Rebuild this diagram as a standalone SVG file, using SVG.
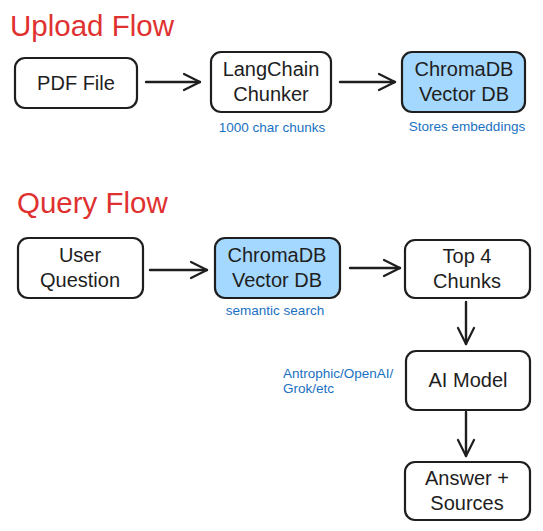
<svg xmlns="http://www.w3.org/2000/svg" width="543" height="531" viewBox="0 0 543 531">
<defs>
<marker id="ah" viewBox="0 0 20 20" refX="18" refY="10" markerWidth="20" markerHeight="20" markerUnits="userSpaceOnUse" orient="auto">
<path d="M2 2 L18 10 L2 18" fill="none" stroke="#1e1e1e" stroke-width="2.2" stroke-linecap="round" stroke-linejoin="round"/>
</marker>
<style>
.box{fill:#ffffff;stroke:#1e1e1e;stroke-width:2.2}
.db{fill:#a5d8ff;stroke:#1e1e1e;stroke-width:2.2}
.t{font-family:"Liberation Sans","DejaVu Sans",sans-serif;font-size:20px;fill:#1e1e1e;text-anchor:middle}
.h{font-family:"Liberation Sans","DejaVu Sans",sans-serif;font-size:29.5px;fill:#e03131}
.n{font-family:"Liberation Sans","DejaVu Sans",sans-serif;font-size:13.5px;fill:#1971c2}
.c{fill:none;stroke:#1e1e1e;stroke-width:2.4;stroke-linecap:round;marker-end:url(#ah)}
</style>
</defs>
<rect width="543" height="531" fill="#ffffff"/>
<text class="h" x="10" y="36">Upload Flow</text>
<text class="h" x="17" y="213">Query Flow</text>

<g id="connectors">
<line class="c" x1="146" y1="82" x2="200" y2="82"/>
<line class="c" x1="340" y1="82" x2="395" y2="82"/>
<line class="c" x1="150" y1="270" x2="207" y2="270"/>
<line class="c" x1="350" y1="268" x2="400" y2="268"/>
<line class="c" x1="466" y1="302" x2="466" y2="344"/>
<line class="c" x1="466" y1="412" x2="466" y2="456"/>
</g>

<g id="pdf">
<rect class="box" x="15" y="58" width="122" height="50" rx="10"/>
<text class="t" x="76" y="90">PDF File</text>
</g>
<g id="langchain">
<rect class="box" x="211" y="52" width="120" height="60" rx="10"/>
<text class="t" x="271" y="76">LangChain</text>
<text class="t" x="271" y="101">Chunker</text>
<text class="n" x="272" y="132" text-anchor="middle">1000 char chunks</text>
</g>
<g id="chroma1">
<rect class="db" x="402" y="52" width="123" height="60" rx="10"/>
<text class="t" x="464" y="76">ChromaDB</text>
<text class="t" x="464" y="101">Vector DB</text>
<text class="n" x="467" y="131" text-anchor="middle">Stores embeddings</text>
</g>
<g id="user">
<rect class="box" x="18" y="238" width="125" height="60" rx="10"/>
<text class="t" x="80" y="262">User</text>
<text class="t" x="80" y="287">Question</text>
</g>
<g id="chroma2">
<rect class="db" x="215" y="238" width="125" height="60" rx="10"/>
<text class="t" x="277" y="262">ChromaDB</text>
<text class="t" x="277" y="287">Vector DB</text>
<text class="n" x="275" y="315" text-anchor="middle">semantic search</text>
</g>
<g id="top4">
<rect class="box" x="405" y="240" width="125" height="58" rx="10"/>
<text class="t" x="467" y="263">Top 4</text>
<text class="t" x="467" y="288">Chunks</text>
</g>
<g id="aimodel">
<rect class="box" x="406" y="351" width="124" height="59" rx="10"/>
<text class="t" x="468" y="387">AI Model</text>
<text class="n" x="283" y="378">Antrophic/OpenAI/</text>
<text class="n" x="283" y="393">Grok/etc</text>
</g>
<g id="answer">
<rect class="box" x="405" y="462" width="125" height="58" rx="10"/>
<text class="t" x="467" y="485">Answer +</text>
<text class="t" x="467" y="510">Sources</text>
</g>
</svg>
